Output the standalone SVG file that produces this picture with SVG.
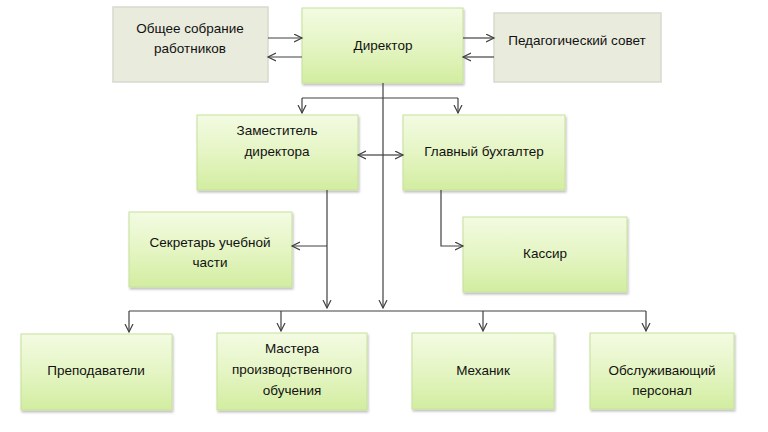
<svg xmlns="http://www.w3.org/2000/svg" width="768" height="432" viewBox="0 0 768 432">
<defs>
<linearGradient id="g" x1="0" y1="0" x2="0" y2="1">
<stop offset="0" stop-color="#f3fbe2"/>
<stop offset="0.5" stop-color="#e5f5c4"/>
<stop offset="1" stop-color="#d2eda0"/>
</linearGradient>
<filter id="sh" x="-5%" y="-5%" width="115%" height="125%">
<feDropShadow dx="1" dy="2" stdDeviation="1.2" flood-color="#000" flood-opacity="0.25"/>
</filter>
<marker id="ar" markerWidth="10" markerHeight="10" refX="8" refY="4.5" orient="auto" markerUnits="userSpaceOnUse">
<path d="M0,0.5 L8,4.5 L0,8.5" fill="none" stroke="#404040" stroke-width="1.2"/>
</marker>
</defs>
<style>
.gr{fill:url(#g);stroke:#c6e09c;stroke-width:1;filter:url(#sh)}
.gy{fill:#e9ecdd;stroke:#d7d9cf;stroke-width:1.5}
.t{font-family:"Liberation Sans",Arial,sans-serif;font-size:13.5px;fill:#111;text-anchor:middle;dominant-baseline:central}
.c{fill:none;stroke:#404040;stroke-width:1.2}
.a{marker-end:url(#ar)}
</style>
<rect width="768" height="432" fill="#fff"/>
<g id="obshee"><rect class="gy" x="113" y="7" width="155" height="75"/><text class="t" x="190" y="28">Общее собрание</text><text class="t" x="190" y="48">работников</text></g>
<g id="direktor"><rect class="gr" x="302" y="8" width="161" height="75"/><text class="t" x="383" y="45">Директор</text></g>
<g id="pedsovet"><rect class="gy" x="494" y="13" width="167" height="69"/><text class="t" x="577" y="40">Педагогический совет</text></g>
<g id="zam"><rect class="gr" x="197" y="115" width="161" height="75"/><text class="t" x="277" y="130">Заместитель</text><text class="t" x="277" y="151">директора</text></g>
<g id="buh"><rect class="gr" x="403" y="115" width="162" height="75"/><text class="t" x="484" y="151">Главный бухгалтер</text></g>
<g id="sekretar"><rect class="gr" x="129" y="212" width="163" height="75"/><text class="t" x="210" y="242">Секретарь учебной</text><text class="t" x="210" y="262">части</text></g>
<g id="kassir"><rect class="gr" x="463" y="217" width="164" height="75"/><text class="t" x="545" y="253">Кассир</text></g>
<g id="prepod"><rect class="gr" x="21" y="334" width="151" height="76"/><text class="t" x="96" y="370">Преподаватели</text></g>
<g id="mastera"><rect class="gr" x="217" y="333" width="150" height="77"/><text class="t" x="292" y="348">Мастера</text><text class="t" x="292" y="369">производственного</text><text class="t" x="292" y="390">обучения</text></g>
<g id="mehanik"><rect class="gr" x="412" y="333" width="142" height="76"/><text class="t" x="483" y="370">Механик</text></g>
<g id="obsl"><rect class="gr" x="590" y="333" width="144" height="76"/><text class="t" x="662" y="370">Обслуживающий</text><text class="t" x="662" y="390">персонал</text></g>
<g id="connectors">
<path class="c a" d="M268,38 H302"/>
<path class="c a" d="M302,57 H268"/>
<path class="c a" d="M463,38 H494"/>
<path class="c a" d="M494,57 H463"/>
<path class="c a" d="M383,83 V308"/>
<path class="c" d="M302,98 H458"/>
<path class="c a" d="M302,98 V113"/>
<path class="c a" d="M458,98 V113"/>
<path class="c a" d="M380,155 H358"/>
<path class="c a" d="M380,155 H403"/>
<path class="c a" d="M327,190 V308"/>
<path class="c a" d="M327,246 H292"/>
<path class="c a" d="M441,190 V246 H463"/>
<path class="c" d="M129,311 H646"/>
<path class="c a" d="M129,311 V332"/>
<path class="c a" d="M281,311 V331"/>
<path class="c a" d="M483,311 V331"/>
<path class="c a" d="M646,311 V331"/>
</g>
</svg>
